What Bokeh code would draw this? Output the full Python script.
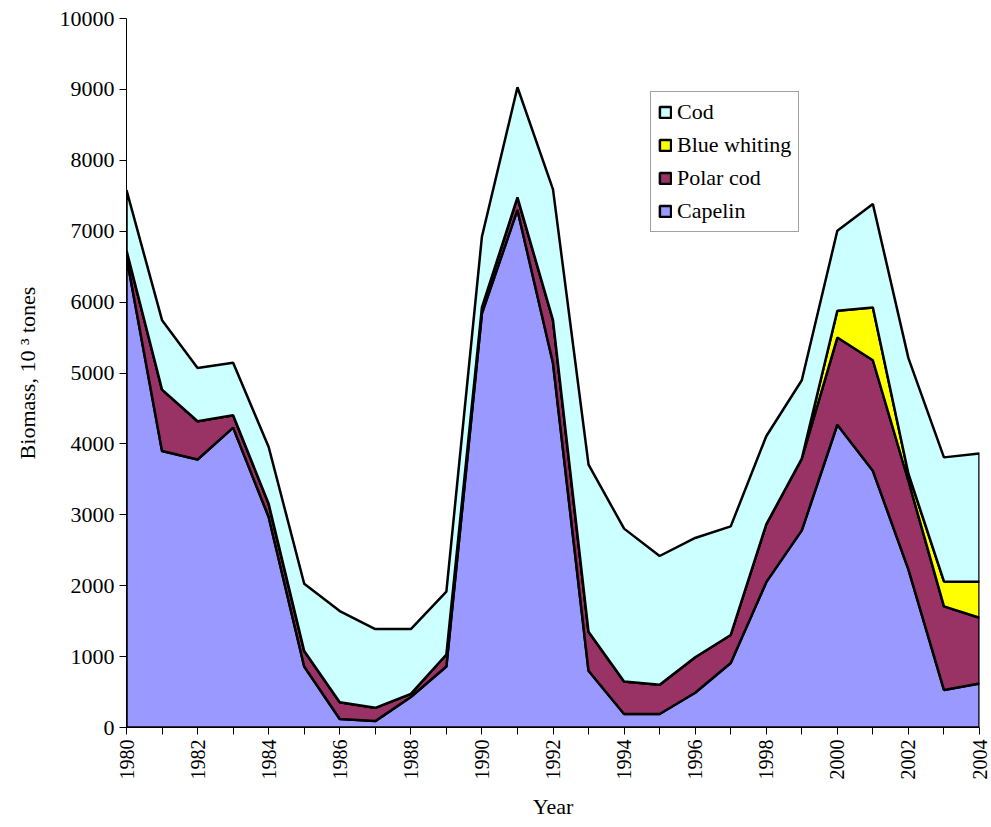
import math
from bokeh.plotting import figure
from bokeh.models import Range1d, FixedTicker, Legend, LegendItem
from bokeh.embed import file_html
from bokeh.resources import INLINE

years = list(range(1980, 2005))
capelin = [6640, 3900, 3780, 4230, 2970, 860, 120, 90, 430, 860, 5840, 7300, 5140,
           800, 190, 190, 490, 910, 2050, 2780, 4270, 3620, 2230, 530, 620]
polar_cod = [90, 865, 540, 175, 185, 220, 237, 188, 45, 170, 85, 177, 605,
             550, 459, 412, 500, 395, 815, 1013, 1230, 1560, 1250, 1178, 928]
blue_whiting = [0, 0, 0, 0, 0, 0, 0, 0, 0, 0, 0, 0, 0,
                0, 0, 0, 0, 0, 0, 0, 377, 745, 100, 353, 507]
cod = [850, 980, 752, 738, 802, 948, 1285, 1110, 913, 885, 997, 1553, 1845,
       2358, 2156, 1817, 1683, 1532, 1243, 1105, 1129, 1458, 1630, 1749, 1809]

series_names = ["Capelin", "Polar cod", "Blue whiting", "Cod"]
series_values = [capelin, polar_cod, blue_whiting, cod]
series_colors = ["#9999FF", "#993366", "#FFFF00", "#CCFFFF"]

y_ticks = list(range(0, 10001, 1000))

FONT = "Liberation Serif"
FS = "22px"

p = figure(width=991, height=826, output_backend="svg", toolbar_location=None,
           x_range=Range1d(1980, 2004), y_range=Range1d(0, 10000),
           min_border_left=126, min_border_right=12, min_border_top=18, min_border_bottom=99)
p.outline_line_color = None
p.xgrid.grid_line_color = None
p.ygrid.grid_line_color = None
p.background_fill_color = "white"
p.border_fill_color = "white"

renderers = {}
bottom = [0] * len(years)
for name, vals, col in zip(series_names, series_values, series_colors):
    top = [b + v for b, v in zip(bottom, vals)]
    xs = years + years[::-1]
    ys = top + bottom[::-1]
    r = p.patch(xs, ys, fill_color=col, line_color="black", line_width=2.5)
    renderers[name] = r
    bottom = top

# axes
p.xaxis.ticker = FixedTicker(ticks=years)
p.xaxis.major_label_overrides = {y: "" for y in years if y % 2 == 1}
p.xaxis.major_label_orientation = math.pi / 2
p.yaxis.ticker = FixedTicker(ticks=y_ticks)
for ax in (p.xaxis[0], p.yaxis[0]):
    ax.minor_tick_line_color = None
    ax.major_tick_in = 0
    ax.major_tick_out = 7
    ax.axis_line_color = "black"
    ax.major_tick_line_color = "black"
    ax.major_label_text_font = FONT
    ax.major_label_text_font_size = FS
    ax.major_label_text_color = "black"
    ax.axis_label_text_font = FONT
    ax.axis_label_text_font_size = FS
    ax.axis_label_text_font_style = "normal"
    ax.axis_label_text_color = "black"
    ax.major_label_standoff = 5
p.xaxis.major_label_text_font_size = "20px"
p.xaxis.axis_label = "Year"
p.xaxis.axis_label_standoff = 11
p.yaxis.axis_label = "Biomass, 10 \u00b3 tones"
p.yaxis.axis_label_standoff = 17

legend = Legend(items=[LegendItem(label=n, renderers=[renderers[n]])
                       for n in ["Cod", "Blue whiting", "Polar cod", "Capelin"]],
                location=(524, 495))
legend.label_text_font = FONT
legend.label_text_font_size = FS
legend.label_text_color = "black"
legend.glyph_width = 14
legend.glyph_height = 14
legend.label_height = 24
legend.label_standoff = 5
legend.spacing = 7
legend.padding = 7
legend.margin = 0
legend.border_line_color = "#444444"
legend.border_line_width = 1
legend.background_fill_color = "white"
legend.background_fill_alpha = 1
p.add_layout(legend)

open("out.html", "w").write(file_html(p, INLINE))
